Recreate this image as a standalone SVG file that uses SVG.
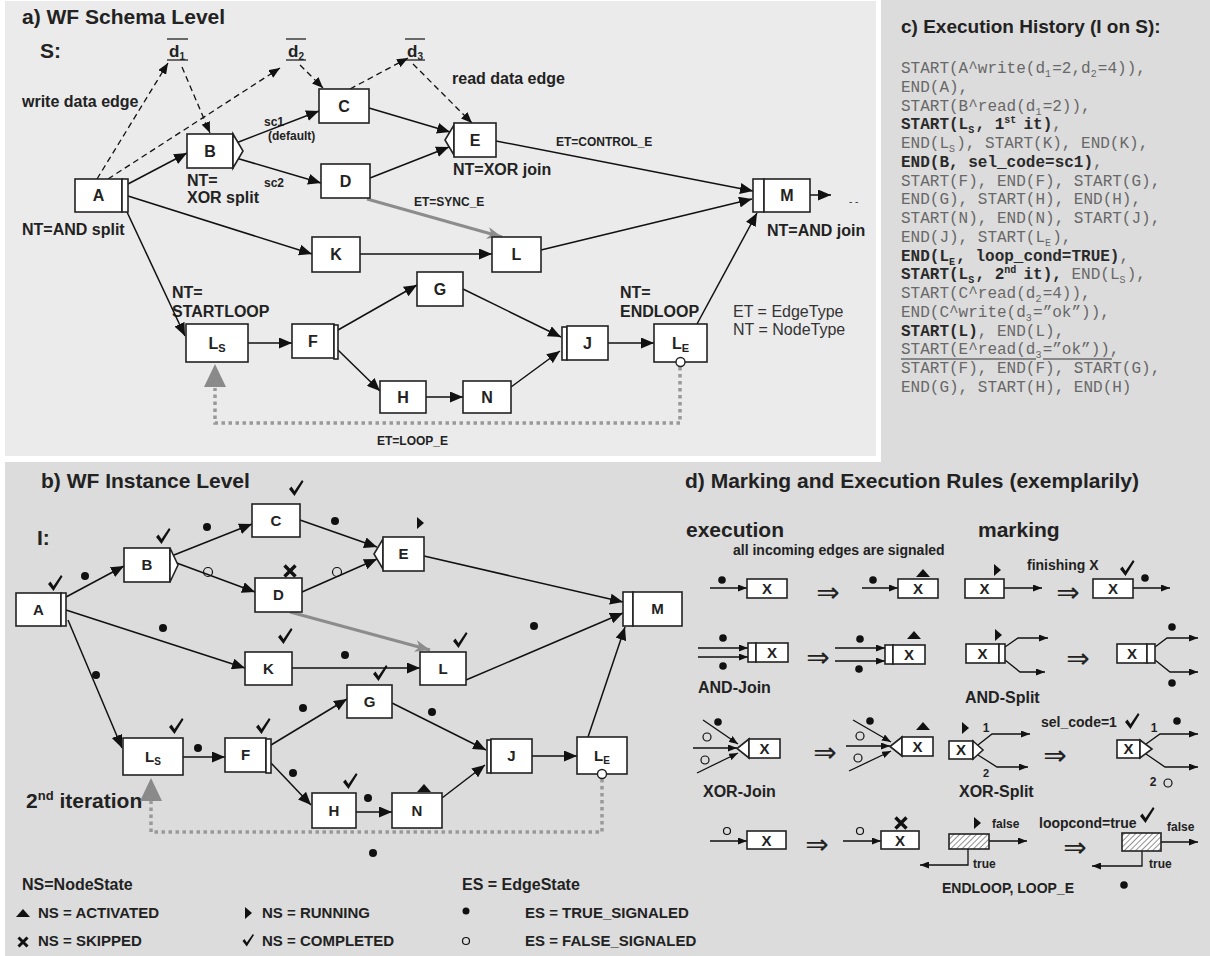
<svg xmlns="http://www.w3.org/2000/svg" width="1210" height="956" viewBox="0 0 1210 956">
<style>
.t{font-family:"Liberation Sans",Arial,Helvetica,sans-serif;font-weight:bold;fill:#222}
.r{font-weight:normal;fill:#333}
.h{font-size:21px}
.nt{font-size:16px}
.el{font-size:12px}
.nl{font-size:16px;text-anchor:middle}
.nl2{font-size:15px;text-anchor:middle}
.lg{font-size:15px}
.box{fill:#fff;stroke:#222;stroke-width:1.6}
.hb{fill:url(#hatch);stroke:#222;stroke-width:1.6}
.e{fill:none;stroke:#111;stroke-width:1.5;marker-end:url(#ah)}
.ed{fill:none;stroke:#111;stroke-width:1.3;stroke-dasharray:6 4;marker-end:url(#ahd)}
.es{fill:none;stroke:#111;stroke-width:1.3;marker-end:url(#as)}
.sync{fill:none;stroke:#8c8c8c;stroke-width:3;marker-end:url(#ahg)}
.loop{fill:none;stroke:#999;stroke-width:3.5;stroke-dasharray:3.5 3.5}
.mono{font-family:"Liberation Mono","Courier New",monospace;font-size:16px;fill:#686868}
.mb{font-weight:bold;fill:#2a2a2a}
.sub{font-size:10px}
.dot{fill:#111}
.hol{fill:none;stroke:#111;stroke-width:1.2}
.sym{font-family:"DejaVu Sans",sans-serif;font-size:28px;fill:#222;text-anchor:middle}
</style>
<defs>
<marker id="ah" markerUnits="userSpaceOnUse" markerWidth="13" markerHeight="11" refX="13" refY="5.5" orient="auto"><path d="M0,0L13,5.5L0,11z" fill="#111"/></marker>
<marker id="ahd" markerUnits="userSpaceOnUse" markerWidth="11" markerHeight="9" refX="11" refY="4.5" orient="auto"><path d="M0,0L11,4.5L0,9z" fill="#111"/></marker>
<marker id="as" markerUnits="userSpaceOnUse" markerWidth="9" markerHeight="7" refX="9" refY="3.5" orient="auto"><path d="M0,0L9,3.5L0,7z" fill="#111"/></marker>
<marker id="ahg" markerUnits="userSpaceOnUse" markerWidth="15" markerHeight="12" refX="15" refY="6" orient="auto"><path d="M0,0L15,6L0,12L4,6z" fill="#8c8c8c"/></marker>
<pattern id="hatch" width="4" height="4" patternUnits="userSpaceOnUse" patternTransform="rotate(45)"><rect width="4" height="4" fill="#fff"/><line x1="0" y1="0" x2="0" y2="4" stroke="#555" stroke-width="1.3"/></pattern>
<path id="chk" d="M-7,0L-4.5,-2.5L-1.5,2L6,-9L7.5,-7.5L-1.5,7Z" fill="#111"/>
<path id="chks" d="M-5.5,0L-3.5,-2L-1.2,1.6L4.8,-7L6,-6L-1.2,5.5Z" fill="#111"/>
<path id="act" d="M-7,4L0,-4L7,4Z" fill="#111"/>
<path id="run" d="M-3,-6L4,0L-3,6Z" fill="#111"/>
<path id="skp" d="M-5.5,-5.5L5.5,5.5M-5.5,5.5L5.5,-5.5" stroke="#111" stroke-width="3.4" fill="none"/>
<path id="skps" d="M-4.5,-4.5L4.5,4.5M-4.5,4.5L4.5,-4.5" stroke="#111" stroke-width="3" fill="none"/>
</defs>

<!-- backgrounds -->
<rect x="0" y="0" width="1210" height="956" fill="#fff"/>
<rect x="5" y="1" width="871" height="455" fill="#ebebeb"/>
<rect x="881" y="0" width="329" height="463" fill="#dcdcdc"/>
<rect x="5" y="462" width="1205" height="494" fill="#dcdcdc"/>

<!-- ================= Panel a ================= -->
<g id="panel-a-text">
<text class="t h" x="22" y="24">a) WF Schema Level</text>
<text class="t h" x="40" y="58">S:</text>
<text class="t nt" x="22" y="107">write data edge</text>
<text class="t nt" x="452" y="84">read data edge</text>
<text class="t nt" x="22" y="235">NT=AND split</text>
<text class="t nt" x="187" y="186">NT=</text>
<text class="t nt" x="187" y="203">XOR split</text>
<text class="t nt" x="453" y="175">NT=XOR join</text>
<text class="t nt" x="767" y="236">NT=AND join</text>
<text class="t nt" x="172" y="298">NT=</text>
<text class="t nt" x="172" y="317">STARTLOOP</text>
<text class="t nt" x="620" y="298">NT=</text>
<text class="t nt" x="620" y="317">ENDLOOP</text>
<text class="t nt r" x="733" y="317">ET = EdgeType</text>
<text class="t nt r" x="733" y="335">NT = NodeType</text>
<text class="t el" x="264" y="126">sc1</text>
<text class="t el" x="268" y="140">(default)</text>
<text class="t el" x="264" y="187">sc2</text>
<text class="t el" x="414" y="206">ET=SYNC_E</text>
<text class="t el" x="556" y="146">ET=CONTROL_E</text>
<text class="t el" x="377" y="445">ET=LOOP_E</text>
<text class="t r" x="849" y="205" font-size="10">- -</text>
</g>

<g id="a-d1"><line x1="167" y1="39" x2="188" y2="39" stroke="#222" stroke-width="1.3"/><line x1="167" y1="60" x2="188" y2="60" stroke="#222" stroke-width="1.3"/><text class="t" x="169" y="57" font-size="17">d<tspan font-size="10" dy="3">1</tspan></text></g>
<g id="a-d2"><line x1="286" y1="39" x2="306" y2="39" stroke="#222" stroke-width="1.3"/><line x1="286" y1="60" x2="306" y2="60" stroke="#222" stroke-width="1.3"/><text class="t" x="288" y="57" font-size="17">d<tspan font-size="10" dy="3">2</tspan></text></g>
<g id="a-d3"><line x1="405" y1="39" x2="425" y2="39" stroke="#222" stroke-width="1.3"/><line x1="405" y1="60" x2="425" y2="60" stroke="#222" stroke-width="1.3"/><text class="t" x="407" y="57" font-size="17">d<tspan font-size="10" dy="3">3</tspan></text></g>

<g id="edges-a">
<path class="ed" d="M97,179L168,63"/>
<path class="ed" d="M108,179L280,68"/>
<path class="ed" d="M182,67L210,133"/>
<path class="ed" d="M300,65L323,88"/>
<path class="ed" d="M350,89L408,58"/>
<path class="ed" d="M413,64L472,123"/>
<path class="e" d="M128,184L187,153"/>
<path class="e" d="M128,196L312,254"/>
<path class="e" d="M127,212L185,336"/>
<path class="e" d="M236,143L319,111"/>
<path class="e" d="M236,158L321,183"/>
<path class="e" d="M369,108L450,132"/>
<path class="e" d="M370,178L449,147"/>
<path class="e" d="M496,141L753,191"/>
<path class="e" d="M360,254L492,254"/>
<path class="e" d="M541,250L752,199"/>
<path class="e" d="M697,324L757,213"/>
<path class="e" d="M810,195L831,195"/>
<path class="e" d="M248,343L292,343"/>
<path class="e" d="M338,330L417,285"/>
<path class="e" d="M338,350L380,391"/>
<path class="e" d="M426,397L463,397"/>
<path class="e" d="M463,289L561,337"/>
<path class="e" d="M511,387L560,351"/>
<path class="e" d="M608,343L654,343"/>
<path class="sync" d="M367,199L502,237"/>
<path class="loop" d="M680,367V423H215V388"/>
<polygon points="215,364 204,387 226,387" fill="#8a8a8a"/>
</g>

<g id="a-A"><rect class="box" x="75" y="179" width="47" height="33"/><rect class="box" x="122" y="179" width="6" height="33"/><text class="t nl" x="98.5" y="201">A</text></g>
<g id="a-B"><rect class="box" x="187" y="134" width="46" height="34"/><polygon class="box" points="233,134 243,151 233,168"/><text class="t nl" x="210" y="157">B</text></g>
<g id="a-C"><rect class="box" x="319" y="89" width="50" height="34"/><text class="t nl" x="344" y="112">C</text></g>
<g id="a-D"><rect class="box" x="321" y="164" width="49" height="34"/><text class="t nl" x="345.5" y="187">D</text></g>
<g id="a-E"><polygon class="box" points="454,125 445,140 454,155"/><rect class="box" x="454" y="123" width="42" height="34"/><text class="t nl" x="475" y="146">E</text></g>
<g id="a-M"><rect class="box" x="753" y="179" width="11" height="33"/><rect class="box" x="764" y="179" width="46" height="33"/><text class="t nl" x="787" y="201">M</text></g>
<g id="a-K"><rect class="box" x="312" y="237" width="48" height="35"/><text class="t nl" x="336" y="260">K</text></g>
<g id="a-L"><rect class="box" x="492" y="237" width="49" height="35"/><text class="t nl" x="516.5" y="260">L</text></g>
<g id="a-G"><rect class="box" x="417" y="272" width="46" height="34"/><text class="t nl" x="440" y="295">G</text></g>
<g id="a-LS"><rect class="box" x="186" y="324" width="62" height="38"/><text class="t nl" x="217" y="349">L<tspan font-size="11" dy="3">S</tspan></text></g>
<g id="a-F"><rect class="box" x="292" y="324" width="42" height="34"/><rect class="box" x="334" y="325" width="4" height="34"/><text class="t nl" x="313" y="347">F</text></g>
<g id="a-H"><rect class="box" x="380" y="381" width="46" height="32"/><text class="t nl" x="403" y="403">H</text></g>
<g id="a-N"><rect class="box" x="463" y="381" width="48" height="32"/><text class="t nl" x="487" y="403">N</text></g>
<g id="a-J"><rect class="box" x="562" y="327" width="5" height="33"/><rect class="box" x="567" y="326" width="41" height="34"/><text class="t nl" x="587.5" y="349">J</text></g>
<g id="a-LE"><rect class="box" x="654" y="324" width="53" height="38"/><circle cx="680.5" cy="362" r="4.5" fill="#fff" stroke="#222" stroke-width="1.4"/><text class="t nl" x="680.5" y="349">L<tspan font-size="11" dy="3">E</tspan></text></g>

<!-- ================= Panel c ================= -->
<g id="panel-c">
<text class="t" x="901" y="33" font-size="19">c) Execution History (I on S):</text>
<text class="mono" x="901" y="73">START(A^write(d<tspan class="sub" dy="4">1</tspan><tspan dy="-4" dx="1.2">=2,d</tspan><tspan class="sub" dy="4">2</tspan><tspan dy="-4" dx="1.2">=4)),</tspan></text>
<text class="mono" x="901" y="92">END(A),</text>
<text class="mono" x="901" y="111">START(B^read(d<tspan class="sub" dy="4">1</tspan><tspan dy="-4" dx="1.2">=2)),</tspan></text>
<text class="mono" x="901" y="129"><tspan class="mb">START(L</tspan><tspan class="mb sub" dy="4">S</tspan><tspan class="mb" dy="-4" dx="1.2">, 1</tspan><tspan class="mb sub" dy="-6">st</tspan><tspan class="mb" dy="6" dx="-2.4"> it)</tspan>,</text>
<text class="mono" x="901" y="148">END(L<tspan class="sub" dy="4">S</tspan><tspan dy="-4" dx="1.2">), START(K), END(K),</tspan></text>
<text class="mono" x="901" y="167"><tspan class="mb">END(B, sel_code=sc1)</tspan>,</text>
<text class="mono" x="901" y="186">START(F), END(F), START(G),</text>
<text class="mono" x="901" y="204">END(G), START(H), END(H),</text>
<text class="mono" x="901" y="223">START(N), END(N), START(J),</text>
<text class="mono" x="901" y="242">END(J), START(L<tspan class="sub" dy="4">E</tspan><tspan dy="-4" dx="1.2">),</tspan></text>
<text class="mono" x="901" y="261"><tspan class="mb">END(L</tspan><tspan class="mb sub" dy="4">E</tspan><tspan class="mb" dy="-4" dx="1.2">, loop_cond=TRUE)</tspan>,</text>
<text class="mono" x="901" y="279"><tspan class="mb">START(L</tspan><tspan class="mb sub" dy="4">S</tspan><tspan class="mb" dy="-4" dx="1.2">, 2</tspan><tspan class="mb sub" dy="-6">nd</tspan><tspan class="mb" dy="6" dx="-2.4"> it),</tspan> END(L<tspan class="sub" dy="4">S</tspan><tspan dy="-4" dx="1.2">),</tspan></text>
<text class="mono" x="901" y="298">START(C^read(d<tspan class="sub" dy="4">2</tspan><tspan dy="-4" dx="1.2">=4)),</tspan></text>
<text class="mono" x="901" y="317">END(C^write(d<tspan class="sub" dy="4">3</tspan><tspan dy="-4" dx="1.2">=”ok”)),</tspan></text>
<text class="mono" x="901" y="336"><tspan class="mb">START(L)</tspan>, END(L),</text>
<text class="mono" x="901" y="354">START(E^read(d<tspan class="sub" dy="4">3</tspan><tspan dy="-4" dx="1.2">=”ok”)),</tspan></text>
<line x1="901" y1="359" x2="1036" y2="359" stroke="#333" stroke-width="1"/>
<line x1="1043" y1="359" x2="1112" y2="359" stroke="#333" stroke-width="1"/>
<text class="mono" x="901" y="373">START(F), END(F), START(G),</text>
<text class="mono" x="901" y="392">END(G), START(H), END(H)</text>
</g>

<!-- ================= Panel b ================= -->
<g id="panel-b-text">
<text class="t h" x="41" y="488">b) WF Instance Level</text>
<text class="t h" x="37" y="545">I:</text>
<text class="t" x="26" y="808" font-size="21">2<tspan font-size="13" dy="-8">nd</tspan><tspan dy="8"> iteration</tspan></text>
</g>

<g id="edges-b">
<path class="e" d="M66,597L124,566"/>
<path class="e" d="M66,610L245,668"/>
<path class="e" d="M68,620L122,748"/>
<path class="e" d="M174,555L252,524"/>
<path class="e" d="M174,562L255,592"/>
<path class="e" d="M300,520L377,547"/>
<path class="e" d="M302,592L377,559"/>
<path class="e" d="M424,556L623,602"/>
<path class="e" d="M292,668L420,668"/>
<path class="e" d="M466,680L623,613"/>
<path class="e" d="M588,737L625,627"/>
<path class="e" d="M183,757L225,757"/>
<path class="e" d="M271,745L347,699"/>
<path class="e" d="M271,763L311,805"/>
<path class="e" d="M356,812L392,812"/>
<path class="e" d="M392,703L486,750"/>
<path class="e" d="M442,798L485,765"/>
<path class="e" d="M532,756L577,756"/>
<path class="sync" d="M290,612L430,650"/>
<path class="loop" d="M602,779V832H151V801"/>
<polygon points="151,778 140,801 162,801" fill="#8a8a8a"/>
</g>

<g id="b-marks">
<use href="#chk" x="55" y="584"/>
<use href="#chk" x="163" y="537"/>
<use href="#chk" x="296" y="489"/>
<use href="#skp" x="290" y="571"/>
<use href="#run" x="420" y="523"/>
<use href="#chk" x="285" y="637"/>
<use href="#chk" x="460" y="641"/>
<use href="#chk" x="380" y="674"/>
<use href="#chk" x="176" y="727"/>
<use href="#chk" x="263" y="727"/>
<use href="#chk" x="350" y="782"/>
<use href="#act" x="424" y="788"/>
<circle class="dot" cx="85" cy="576" r="4"/>
<circle class="dot" cx="207" cy="527" r="4"/>
<circle class="dot" cx="335" cy="521" r="4"/>
<circle class="dot" cx="163" cy="628" r="4"/>
<circle class="dot" cx="345" cy="655" r="4"/>
<circle class="dot" cx="534" cy="626" r="4"/>
<circle class="dot" cx="96" cy="675" r="4"/>
<circle class="dot" cx="198" cy="748" r="4"/>
<circle class="dot" cx="303" cy="708" r="4"/>
<circle class="dot" cx="432" cy="712" r="4"/>
<circle class="dot" cx="293" cy="773" r="4"/>
<circle class="dot" cx="368" cy="798" r="4"/>
<circle class="dot" cx="373" cy="853" r="4"/>
<circle class="hol" cx="208" cy="572" r="4.5"/>
<circle class="hol" cx="337" cy="572" r="4.5"/>
</g>

<g id="b-A"><rect class="box" x="16" y="593" width="45" height="33"/><rect class="box" x="61" y="593" width="5" height="33"/><text class="t nl2" x="38.5" y="615">A</text></g>
<g id="b-B"><rect class="box" x="124" y="548" width="46" height="34"/><polygon class="box" points="170,548 178,565 170,582"/><text class="t nl2" x="147" y="570">B</text></g>
<g id="b-C"><rect class="box" x="252" y="504" width="48" height="33"/><text class="t nl2" x="276" y="526">C</text></g>
<g id="b-D"><rect class="box" x="255" y="578" width="47" height="34"/><text class="t nl2" x="278.5" y="600">D</text></g>
<g id="b-E"><polygon class="box" points="383,539 374,554 383,569"/><rect class="box" x="383" y="537" width="41" height="34"/><text class="t nl2" x="403.5" y="559">E</text></g>
<g id="b-M"><rect class="box" x="623" y="592" width="10" height="34"/><rect class="box" x="633" y="592" width="49" height="34"/><text class="t nl2" x="657.5" y="614">M</text></g>
<g id="b-K"><rect class="box" x="245" y="652" width="47" height="33"/><text class="t nl2" x="268.5" y="674">K</text></g>
<g id="b-L"><rect class="box" x="420" y="652" width="46" height="33"/><text class="t nl2" x="443" y="674">L</text></g>
<g id="b-G"><rect class="box" x="347" y="685" width="45" height="33"/><text class="t nl2" x="369.5" y="707">G</text></g>
<g id="b-LS"><rect class="box" x="123" y="738" width="60" height="37"/><text class="t nl2" x="153" y="762">L<tspan font-size="10" dy="3">S</tspan></text></g>
<g id="b-F"><rect class="box" x="225" y="738" width="41" height="34"/><rect class="box" x="266" y="739" width="5" height="34"/><text class="t nl2" x="245.5" y="760">F</text></g>
<g id="b-J"><rect class="box" x="487" y="740" width="4" height="33"/><rect class="box" x="491" y="739" width="41" height="34"/><text class="t nl2" x="511.5" y="761">J</text></g>
<g id="b-LE"><rect class="box" x="577" y="737" width="50" height="37"/><circle cx="602" cy="774" r="4.5" fill="#fff" stroke="#222" stroke-width="1.4"/><text class="t nl2" x="602" y="761">L<tspan font-size="10" dy="3">E</tspan></text></g>
<g id="b-H"><rect class="box" x="312" y="793" width="44" height="35"/><text class="t nl2" x="334" y="816">H</text></g>
<g id="b-N"><rect class="box" x="392" y="793" width="50" height="35"/><text class="t nl2" x="417" y="816">N</text></g>

<!-- legend -->
<g id="legend">
<text class="t" x="22" y="890" font-size="16">NS=NodeState</text>
<use href="#act" x="23" y="913"/>
<text class="t lg" x="38" y="918">NS = ACTIVATED</text>
<use href="#skps" x="23" y="942"/>
<text class="t lg" x="38" y="946">NS = SKIPPED</text>
<use href="#run" x="248" y="913"/>
<text class="t lg" x="262" y="918">NS = RUNNING</text>
<use href="#chks" x="248" y="941"/>
<text class="t lg" x="262" y="946">NS = COMPLETED</text>
<text class="t" x="462" y="890" font-size="16">ES = EdgeState</text>
<circle class="dot" cx="466" cy="911" r="3.5"/>
<text class="t lg" x="525" y="918">ES = TRUE_SIGNALED</text>
<circle class="hol" cx="466" cy="941" r="3.5"/>
<text class="t lg" x="525" y="946">ES = FALSE_SIGNALED</text>
</g>

<!-- ================= Panel d ================= -->
<g id="panel-d-text">
<text class="t h" x="685" y="488">d) Marking and Execution Rules (exemplarily)</text>
<text class="t h" x="686" y="537">execution</text>
<text class="t h" x="978" y="537">marking</text>
<text class="t" x="733" y="555" font-size="14">all incoming edges are signaled</text>
<text class="t" x="1027" y="570" font-size="14">finishing X</text>
<text class="t nt" x="698" y="693">AND-Join</text>
<text class="t nt" x="965" y="703">AND-Split</text>
<text class="t nt" x="703" y="797">XOR-Join</text>
<text class="t nt" x="959" y="797">XOR-Split</text>
<text class="t" x="1041" y="727" font-size="14">sel_code=1</text>
<text class="t el" x="986" y="732" text-anchor="middle">1</text>
<text class="t" x="986" y="777" text-anchor="middle" font-size="11">2</text>
<text class="t el" x="1154" y="732" text-anchor="middle">1</text>
<text class="t el" x="1153" y="786" text-anchor="middle">2</text>
<text class="t el" x="992" y="828">false</text>
<text class="t el" x="973" y="868">true</text>
<text class="t" x="1039" y="828" font-size="14">loopcond=true</text>
<text class="t el" x="1167" y="831">false</text>
<text class="t el" x="1149" y="868">true</text>
<text class="t" x="942" y="893" font-size="14">ENDLOOP, LOOP_E</text>
<text class="sym" x="828" y="602">⇒</text>
<text class="sym" x="1068" y="602">⇒</text>
<text class="sym" x="818" y="667">⇒</text>
<text class="sym" x="1078" y="668">⇒</text>
<text class="sym" x="825" y="762">⇒</text>
<text class="sym" x="1055" y="765">⇒</text>
<text class="sym" x="817" y="854">⇒</text>
<text class="sym" x="1075" y="857">⇒</text>
</g>

<g id="edges-d">
<path class="es" d="M710,588L747,588"/>
<path class="es" d="M862,588L898,588"/>
<path class="es" d="M1004,588L1042,588"/>
<path class="es" d="M1133,588L1170,588"/>
<path class="es" d="M698,648L748,648"/>
<path class="es" d="M698,657L748,657"/>
<path class="es" d="M835,648L885,648"/>
<path class="es" d="M835,661L885,661"/>
<path class="es" d="M1005,647L1018,638L1048,638"/>
<path class="es" d="M1005,660L1020,672L1045,672"/>
<path class="es" d="M1155,647L1167,638L1198,638"/>
<path class="es" d="M1155,660L1170,672L1198,672"/>
<path class="es" d="M703,720L738,744"/>
<path class="es" d="M693,748L737,748"/>
<path class="es" d="M697,773L738,753"/>
<path class="es" d="M853,720L891,742"/>
<path class="es" d="M846,746L890,746"/>
<path class="es" d="M849,771L891,751"/>
<path class="es" d="M978,745L992,734L1030,734"/>
<path class="es" d="M978,755L997,767L1028,767"/>
<path class="es" d="M1146,744L1160,734L1198,734"/>
<path class="es" d="M1146,754L1165,767L1198,767"/>
<path class="es" d="M710,841L747,841"/>
<path class="es" d="M843,841L881,841"/>
<path class="es" d="M989,841L1027,841"/>
<path class="es" d="M968,849V865H920"/>
<path class="es" d="M1161,842L1198,842"/>
<path class="es" d="M1142,851V866H1092"/>
</g>

<g id="d-marks">
<circle class="dot" cx="722" cy="580" r="3.8"/>
<circle class="dot" cx="873" cy="580" r="3.8"/>
<use href="#act" x="923" y="573"/>
<use href="#run" x="997" y="570"/>
<use href="#chk" x="1127" y="569"/>
<circle class="dot" cx="1145" cy="578" r="3.8"/>
<circle class="dot" cx="723" cy="638" r="3.8"/>
<circle class="dot" cx="723" cy="666" r="3.8"/>
<circle class="dot" cx="860" cy="639" r="3.8"/>
<circle class="dot" cx="859" cy="669" r="3.8"/>
<use href="#act" x="914" y="635"/>
<use href="#run" x="998" y="635"/>
<circle class="dot" cx="1172" cy="627" r="3.8"/>
<circle class="dot" cx="1172" cy="683" r="3.8"/>
<circle class="dot" cx="718" cy="722" r="3.8"/>
<circle class="hol" cx="707" cy="737" r="4"/>
<circle class="hol" cx="705" cy="760" r="4"/>
<circle class="dot" cx="870" cy="721" r="3.8"/>
<circle class="hol" cx="860" cy="736" r="4"/>
<circle class="hol" cx="858" cy="758" r="4"/>
<use href="#act" x="923" y="726"/>
<use href="#run" x="965" y="728"/>
<use href="#chk" x="1132" y="722"/>
<circle class="dot" cx="1177" cy="721" r="3.8"/>
<circle class="hol" cx="1168" cy="783" r="4"/>
<circle class="hol" cx="727" cy="831" r="3.5"/>
<circle class="hol" cx="860" cy="831" r="3.5"/>
<use href="#skp" x="901" y="823"/>
<use href="#run" x="977" y="823"/>
<use href="#chk" x="1147" y="816"/>
<circle class="dot" cx="1124" cy="885" r="3.8"/>
</g>

<g id="d-seq1"><rect class="box" x="747" y="579" width="40" height="19"/><text class="t nl2" x="767" y="594">X</text></g>
<g id="d-seq2"><rect class="box" x="898" y="579" width="40" height="19"/><text class="t nl2" x="918" y="594">X</text></g>
<g id="d-fin1"><rect class="box" x="965" y="579" width="39" height="19"/><text class="t nl2" x="984.5" y="594">X</text></g>
<g id="d-fin2"><rect class="box" x="1093" y="579" width="40" height="19"/><text class="t nl2" x="1113" y="594">X</text></g>
<g id="d-andj1"><rect class="box" x="748" y="643" width="8" height="19"/><rect class="box" x="756" y="643" width="32" height="19"/><text class="t nl2" x="772" y="658">X</text></g>
<g id="d-andj2"><rect class="box" x="885" y="645" width="8" height="19"/><rect class="box" x="893" y="645" width="32" height="19"/><text class="t nl2" x="909" y="660">X</text></g>
<g id="d-ands1"><rect class="box" x="966" y="644" width="33" height="19"/><rect class="box" x="999" y="644" width="6" height="19"/><text class="t nl2" x="982.5" y="659">X</text></g>
<g id="d-ands2"><rect class="box" x="1117" y="644" width="30" height="19"/><rect class="box" x="1147" y="644" width="8" height="19"/><text class="t nl2" x="1132" y="659">X</text></g>
<g id="d-xorj1"><polygon class="box" points="749,739 737,748.5 749,758"/><rect class="box" x="749" y="739" width="31" height="19"/><text class="t nl2" x="764.5" y="754">X</text></g>
<g id="d-xorj2"><polygon class="box" points="902,737 890,746.5 902,756"/><rect class="box" x="902" y="737" width="31" height="19"/><text class="t nl2" x="917.5" y="752">X</text></g>
<g id="d-xors1"><rect class="box" x="949" y="741" width="24" height="18"/><polygon class="box" points="973,741 983,750 973,759"/><text class="t nl2" x="961" y="755">X</text></g>
<g id="d-xors2"><rect class="box" x="1117" y="740" width="23" height="18"/><polygon class="box" points="1140,740 1152,749 1140,758"/><text class="t nl2" x="1128.5" y="754">X</text></g>
<g id="d-skip1"><rect class="box" x="747" y="831" width="39" height="18"/><text class="t nl2" x="766.5" y="846">X</text></g>
<g id="d-skip2"><rect class="box" x="881" y="831" width="38" height="18"/><text class="t nl2" x="900" y="846">X</text></g>
<g id="d-loop1"><rect class="hb" x="949" y="834" width="40" height="15"/></g>
<g id="d-loop2"><rect class="hb" x="1122" y="833" width="39" height="18"/></g>
</svg>
